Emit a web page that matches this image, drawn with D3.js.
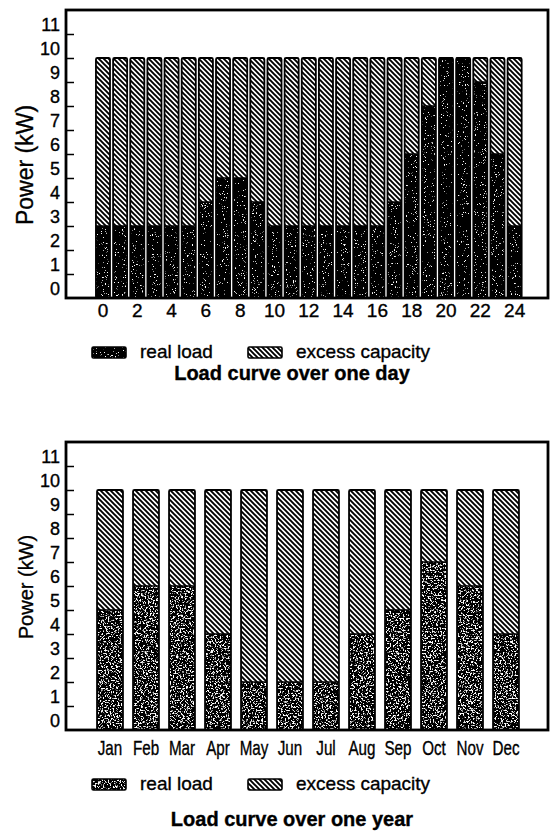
<!DOCTYPE html>
<html lang="en">
<head>
<meta charset="UTF-8">
<title>Load curves</title>
<script src="https://d3js.org/d3.v7.min.js"></script>
<style>
  body { margin: 0; background: #fff; }
  svg { font-family: "Liberation Sans", Arial, sans-serif; }
  svg text { fill: #000; stroke: #000; stroke-width: 0.35px; }
  .ylab { font-size: 18px; }
  .xlab-day { font-size: 19px; }
  .xlab-month { font-size: 20px; }
  .legend-text { font-size: 19px; }
  .title { font-size: 20px; font-weight: bold; text-anchor: middle; }
</style>
</head>
<body>
<div id="chart"></div>
<script>
// data
const hours = [0, 1, 2, 3, 4, 5, 6, 7, 8, 9, 10, 11, 12, 13, 14, 15, 16, 17, 18, 19, 20, 21, 22, 23, 24];
const dayLoad = [3, 3, 3, 3, 3, 3, 4, 5, 5, 4, 3, 3, 3, 3, 3, 3, 3, 4, 6, 8, 10, 10, 9, 6, 3];
const dayTicks = [0, 2, 4, 6, 8, 10, 12, 14, 16, 18, 20, 22, 24];

const months = ["Jan", "Feb", "Mar", "Apr", "May", "Jun", "Jul", "Aug", "Sep", "Oct", "Nov", "Dec"];
const yearLoad = [5, 6, 6, 4, 2, 2, 2, 4, 5, 7, 6, 4];

const capacity = 10;
const yTicks = [0, 1, 2, 3, 4, 5, 6, 7, 8, 9, 10, 11];
const legendLabels = ["real load", "excess capacity"];
const titles = ["Load curve over one day", "Load curve over one year"];

const W = 552, H = 834;
const svg = d3.select("#chart").append("svg")
    .attr("width", W).attr("height", H);

const defs = svg.append("defs");

// diagonal hatch for excess capacity
const hatch = defs.append("pattern")
    .attr("id", "hatch")
    .attr("patternUnits", "userSpaceOnUse")
    .attr("width", 5).attr("height", 5);
hatch.append("rect").attr("width", 5).attr("height", 5).attr("fill", "#fff");
hatch.append("path")
    .attr("d", "M-1,-1 L6,6 M-1,4 L1,6 M4,-1 L6,1")
    .attr("stroke", "#000").attr("stroke-width", 1.9);

// white speckles on the black real-load fill
function speckle(id, freq, slope, cut, seed) {
  const f = defs.append("filter").attr("id", id)
      .attr("x", 0).attr("y", 0).attr("width", 1).attr("height", 1);
  f.append("feTurbulence")
      .attr("type", "fractalNoise")
      .attr("baseFrequency", freq)
      .attr("numOctaves", 2)
      .attr("seed", seed)
      .attr("result", "noise");
  f.append("feColorMatrix")
      .attr("in", "noise").attr("type", "matrix")
      .attr("values", `0 0 0 0 1  0 0 0 0 1  0 0 0 0 1  ${slope} 0 0 0 ${-cut}`)
      .attr("result", "dots");
  f.append("feComposite")
      .attr("in", "dots").attr("in2", "SourceGraphic").attr("operator", "atop");
}
speckle("sparse", 0.9, 14, 9.4, 4);
speckle("dense", 0.6, 10, 5.5, 7);

function panel(cfg) {
  const g = svg.append("g");
  const y = d3.scaleLinear().domain([0, 12]).range([cfg.bottom, cfg.top]);
  const x = d3.scaleBand().domain(cfg.cats)
      .range(cfg.xRange).paddingInner(cfg.pad).paddingOuter(cfg.pad / 2);

  const bars = g.selectAll(".bar").data(cfg.cats.map((c, i) => ({ c, v: cfg.load[i] })))
    .join("g").attr("class", "bar");

  bars.append("rect")
      .attr("x", d => x(d.c)).attr("width", x.bandwidth())
      .attr("y", y(capacity)).attr("height", y(0) - y(capacity))
      .attr("fill", "url(#hatch)");
  bars.append("rect")
      .attr("x", d => x(d.c)).attr("width", x.bandwidth())
      .attr("y", d => y(d.v)).attr("height", d => y(0) - y(d.v))
      .attr("fill", "#000")
      .attr("filter", `url(#${cfg.speckle})`);
  bars.append("line")
      .attr("x1", d => x(d.c)).attr("x2", d => x(d.c) + x.bandwidth())
      .attr("y1", d => y(d.v)).attr("y2", d => y(d.v))
      .attr("stroke", "#000").attr("stroke-width", 1.5);
  bars.append("rect")
      .attr("x", d => x(d.c)).attr("width", x.bandwidth())
      .attr("y", y(capacity)).attr("height", y(0) - y(capacity))
      .attr("rx", 1.5)
      .attr("fill", "none").attr("stroke", "#000").attr("stroke-width", 1.8);

  // frame
  g.append("rect")
      .attr("x", cfg.left).attr("y", cfg.top)
      .attr("width", cfg.right - cfg.left).attr("height", cfg.bottom - cfg.top)
      .attr("fill", "none").attr("stroke", "#000").attr("stroke-width", 2.8);

  // y axis, ticks pointing inward
  const yAxis = g.append("g")
      .attr("transform", `translate(${cfg.left},0)`)
      .call(d3.axisLeft(y).tickValues(yTicks).tickSize(-8).tickPadding(6));
  yAxis.select(".domain").remove();
  yAxis.selectAll(".tick line").attr("stroke-width", 1.5);
  yAxis.selectAll(".tick text").attr("class", "ylab").attr("dy", "0.05em")
      .attr("y", -4);
  yAxis.selectAll(".tick").filter(d => d === 0).select("line").remove();

  // x axis labels
  const xAxis = g.append("g")
      .attr("transform", `translate(0,${cfg.bottom})`)
      .call(d3.axisBottom(x).tickValues(cfg.ticks).tickSize(0));
  xAxis.select(".domain").remove();
  xAxis.selectAll(".tick text").attr("class", cfg.xClass)
      .attr("dy", null).attr("y", cfg.xLabelY)
      .attr("transform", `scale(${cfg.xScaleX},1)`);

  // y title
  g.append("text")
      .attr("transform", `translate(${cfg.yTitleX},${cfg.yTitleY}) rotate(-90)`)
      .attr("text-anchor", "middle")
      .style("font-size", cfg.yTitleSize + "px")
      .text("Power (kW)");

  // legend
  const ly = cfg.legendY;
  g.append("rect").attr("x", 92).attr("y", ly - 11).attr("width", 34).attr("height", 11)
      .attr("rx", 1.5).attr("fill", "#000").attr("filter", `url(#${cfg.speckle})`);
  g.append("rect").attr("x", 92).attr("y", ly - 11).attr("width", 34).attr("height", 11)
      .attr("rx", 1.5).attr("fill", "none").attr("stroke", "#000").attr("stroke-width", 1.6);
  g.append("text").attr("class", "legend-text").attr("x", 140).attr("y", ly).text(legendLabels[0]);
  g.append("rect").attr("x", 248).attr("y", ly - 11).attr("width", 34).attr("height", 11)
      .attr("rx", 1.5).attr("fill", "url(#hatch)").attr("stroke", "#000").attr("stroke-width", 1.6);
  g.append("text").attr("class", "legend-text").attr("x", 296).attr("y", ly).text(legendLabels[1]);

  g.append("text").attr("class", "title")
      .attr("x", 292).attr("y", cfg.titleY).text(cfg.title);
}

panel({
  cats: hours, load: dayLoad, ticks: dayTicks,
  top: 10, bottom: 298, left: 66, right: 548,
  xRange: [94.4, 523.2], pad: 0.18,
  speckle: "sparse", xClass: "xlab-day", xLabelY: 19, xScaleX: 1,
  yTitleX: 33, yTitleY: 165, yTitleSize: 23,
  legendY: 358, titleY: 380, title: titles[0]
});

panel({
  cats: months, load: yearLoad, ticks: months,
  top: 442, bottom: 730, left: 66, right: 548,
  xRange: [92, 524], pad: 0.28,
  speckle: "dense", xClass: "xlab-month", xLabelY: 25, xScaleX: 0.76,
  yTitleX: 33, yTitleY: 587, yTitleSize: 20,
  legendY: 790, titleY: 826, title: titles[1]
});
</script>
</body>
</html>
